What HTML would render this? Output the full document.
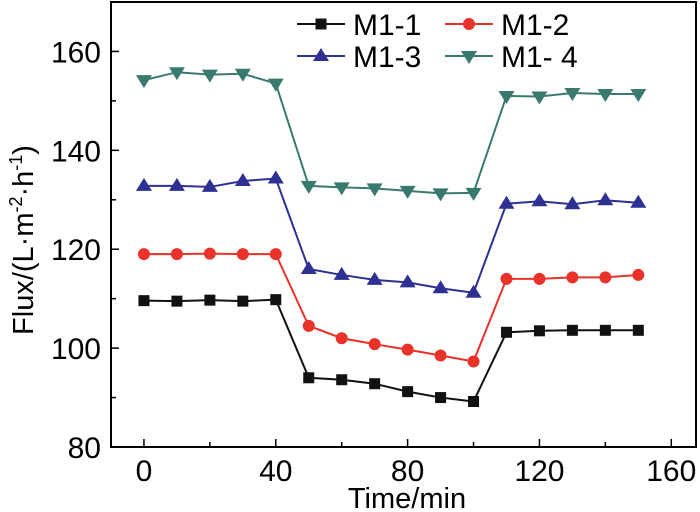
<!DOCTYPE html>
<html><head><meta charset="utf-8"><style>body{margin:0;background:#fff}svg{display:block;font-family:"Liberation Sans",Arial,sans-serif}</style></head>
<body>
<svg id="c" width="700" height="512"></svg>
<script>
const times=[0,10,20,30,40,50,60,70,80,90,100,110,120,130,140,150];
const m11=[109.6,109.5,109.7,109.5,109.8,94,93.6,92.8,91.2,90,89.2,103.2,103.5,103.6,103.6,103.6];
const m12=[119,119,119.1,119,119,104.5,102,100.8,99.7,98.5,97.3,114,114,114.3,114.3,114.8];
const m13=[132.8,132.8,132.6,133.8,134.3,116,114.8,113.8,113.3,112.1,111.2,129.2,129.7,129.1,129.9,129.4];
const m14=[154.2,155.8,155.3,155.5,153.5,132.8,132.5,132.3,131.8,131.3,131.4,151,150.9,151.6,151.4,151.4];
const xTicks=[0,40,80,120,160];
const yTicks=[80,100,120,140,160];
const seriesNames=["M1-1","M1-2","M1-3","M1- 4"];
const svg=document.getElementById('c');const NS='http://www.w3.org/2000/svg';
const L=111,R=696,T=2,B=447,X0=-10,X1=167.5,Y0=80,Y1=170;
const xs=v=>L+(v-X0)/(X1-X0)*(R-L), ys=v=>B-(v-Y0)/(Y1-Y0)*(B-T);
function mk(t,a,p){const e=document.createElementNS(NS,t);for(const k in a)e.setAttribute(k,a[k]);(p||svg).appendChild(e);return e;}
let e=mk('rect',{x:L,y:T,width:R-L,height:B-T,fill:'none',stroke:'#000','stroke-width':2});


for(let v=0;v<=160;v+=20){const x=xs(v);const len=v%40===0?8:5;mk('line',{x1:x,x2:x,y1:B,y2:B-len,stroke:'#000','stroke-width':1.5});}
for(let v=80;v<=170;v+=10){const y=ys(v);const len=v%20===0?8:5;mk('line',{x1:L,x2:L+len,y1:y,y2:y,stroke:'#000','stroke-width':1.5});}
xTicks.forEach(v=>{const t=mk('text',{x:xs(v),y:B+34,'text-anchor':'middle','font-size':30});t.textContent=v;

});
yTicks.forEach(v=>{const t=mk('text',{x:L-10,y:ys(v)+11,'text-anchor':'end','font-size':30});t.textContent=v;

});
let xt=mk('text',{x:407,y:508,'text-anchor':'middle','font-size':29});xt.textContent='Time/min';


let yt=mk('text',{transform:'translate(33,240) rotate(-90)','text-anchor':'middle','font-size':29});
yt.innerHTML='Flux/(L·m<tspan font-size="18" dy="-11">-2</tspan><tspan dy="11">·h</tspan><tspan font-size="18" dy="-11">-1</tspan><tspan dy="11">)</tspan>';


function marker(type,x,y,c,g){
 if(type==='sq')return mk('rect',{x:x-5.5,y:y-5.5,width:11,height:11,fill:c},g);
 if(type==='ci')return mk('circle',{cx:x,cy:y,r:6,fill:c},g);
 if(type==='up')return mk('polygon',{points:`${x},${y-8} ${x-8},${y+5} ${x+8},${y+5}`,fill:c},g);
 return mk('polygon',{points:`${x},${y+8} ${x-8},${y-5} ${x+8},${y-5}`,fill:c},g);
}
const series=[[m11,'#111','sq'],[m12,'#e8322a','ci'],[m13,'#2e3192','up'],[m14,'#3a7a6e','dn']];
series.forEach((s,i)=>{const g=mk('g',{});


mk('polyline',{points:s[0].map((v,j)=>xs(times[j])+','+ys(v)).join(' '),fill:'none',stroke:s[1],'stroke-width':2},g);
s[0].forEach((v,j)=>marker(s[2],xs(times[j]),ys(v),s[1],g));});
const lp=[[297,24],[445,24],[297,56],[445,56]];
series.forEach((s,i)=>{const g=mk('g',{});


const [x,y]=lp[i];mk('line',{x1:x,x2:x+48,y1:y,y2:y,stroke:s[1],'stroke-width':2},g);marker(s[2],x+24,y,s[1],g);
const t=mk('text',{x:x+56,y:y+11,'font-size':30},g);t.textContent=seriesNames[i];});
</script>
</body></html>
